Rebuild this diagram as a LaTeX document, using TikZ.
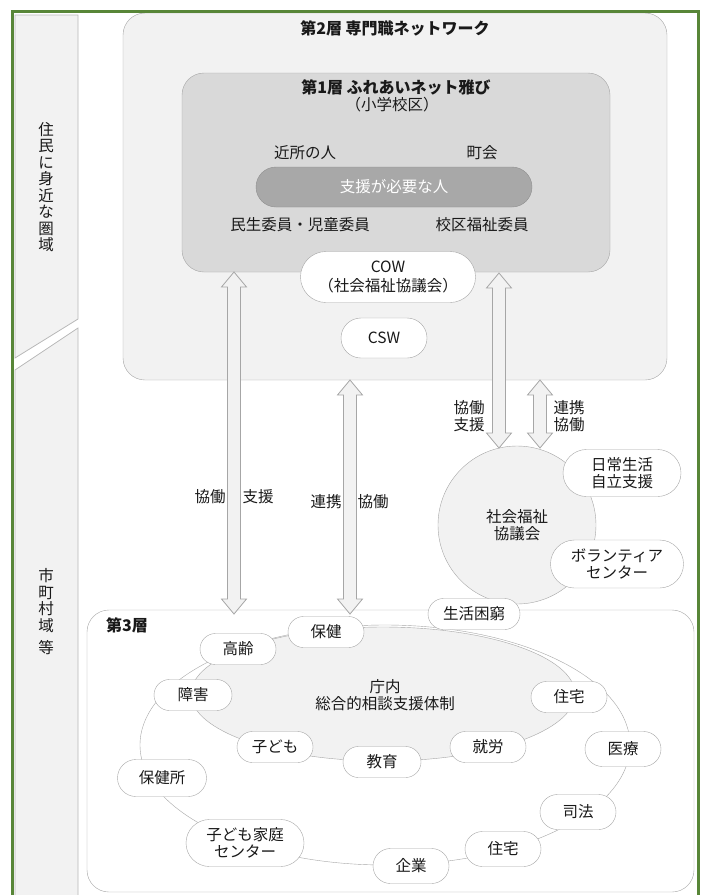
\documentclass[tikz,border=0pt]{standalone}
\usepackage{fontspec}
\setmainfont{Noto Sans CJK JP}
\usetikzlibrary{calc,shapes.misc}
\definecolor{framegreen}{RGB}{88,134,56}
\definecolor{linegray}{RGB}{166,166,166}
\definecolor{palegray}{RGB}{242,242,242}
\definecolor{midgray}{RGB}{217,217,217}
\definecolor{needgray}{RGB}{168,168,168}
\definecolor{txt}{RGB}{25,25,25}
\tikzset{
  label/.style={font=\fontsize{15.5}{16.5}\selectfont, text=txt, align=center, inner sep=0pt},
  title/.style={label, font=\fontsize{16}{17}\selectfont\bfseries},
  layer/.style={draw=linegray, rounded corners=22pt, inner sep=0pt},
  pill/.style={rounded rectangle, draw=linegray, fill=white, minimum width=78pt,
    minimum height=31pt, inner sep=1pt, align=center, text=txt,
    font=\fontsize{15.5}{17}\selectfont},
  arrowbody/.style={draw=linegray, fill=palegray, line width=0.8pt},
}
\def\labelnode{\node[label]}
\def\pillnode{\node[pill]}
\def\colbox{\filldraw[fill=palegray, draw=linegray!80, line width=0.8pt]}
\newcommand\blockarrow[2]{%
  \draw[arrowbody] let \p1=(#1), \p2=(#2) in
    (\x1,\y1) -- (\x1+12.5pt,\y1-15pt) -- (\x1+6.5pt,\y1-15pt) -- (\x1+6.5pt,\y2+15pt)
    -- (\x1+12.5pt,\y2+15pt) -- (\x1,\y2) -- (\x1-12.5pt,\y2+15pt) -- (\x1-6.5pt,\y2+15pt)
    -- (\x1-6.5pt,\y1-15pt) -- (\x1-12.5pt,\y1-15pt) -- cycle;}

\begin{document}
\begin{tikzpicture}[x=1pt,y=-1pt]
\useasboundingbox (0,0) rectangle (702,895);
\colbox (15,15) -- (78,15) -- (78,319) -- (15,358) -- cycle;
\colbox (15,370) -- (78,328) -- (78,900) -- (15,900) -- cycle;
\labelnode (near) at (46,187) {住\\民\\に\\身\\近\\な\\圏\\域};
\labelnode (city) at (46,612) {市\\町\\村\\域\\[6pt]等};

\node[layer, fill=palegray, minimum width=544pt, minimum height=367pt] (l2) at (395,196.5) {};
\node[layer, fill=midgray, minimum width=428pt, minimum height=199pt] (l1) at (396,172.5) {};
\node[layer, fill=white, minimum width=607pt, minimum height=282pt] (l3) at (390.5,751) {};
\node[title] (t2) at (395,28) {第2層\ 専門職ネットワーク};
\node[title] (t1) at (396,87) {第1層\ ふれあいネット雅び};
\labelnode (t1sub) at (392,105) {（小学校区）};
\node[title] (t3) at (127,625) {第3層};

\labelnode (neighbor) at (305,153) {近所の人};
\labelnode (chokai) at (482,153) {町会};
\node[pill, fill=needgray, draw=needgray!85!black, text=white, minimum width=278pt, minimum height=40pt] (need) at (394,187) {支援が必要な人};
\labelnode (minsei) at (300,225) {民生委員・児童委員};
\labelnode (kouku) at (482,225) {校区福祉委員};
\pillnode[minimum width=177pt, minimum height=51pt, font=\fontsize{15.5}{19}\selectfont] (cow) at (388,277) {COW\\（社会福祉協議会）};
\pillnode[minimum width=88pt, minimum height=40pt] (csw) at (384,338) {CSW};

\node[circle, draw=linegray, fill=palegray, minimum size=158pt, align=center, text=txt, font=\fontsize{15.5}{17}\selectfont] (shakyo) at (517,525) {社会福祉\\協議会};
\pillnode[minimum width=120pt, minimum height=47pt] (jiritsu) at (622,473) {日常生活\\自立支援};
\pillnode[minimum width=135pt, minimum height=48pt] (volunteer) at (617,564) {ボランティア\\センター};

\draw[linegray, fill=palegray] (383,694) ellipse [x radius=192pt, y radius=67pt];
\draw[linegray] (385,745) ellipse [x radius=245pt, y radius=120pt];
\labelnode (chonai) at (385,695) {庁内\\総合的相談支援体制};

\coordinate (a1t) at (234,272);
\coordinate (a1b) at (234,614);
\coordinate (a2t) at (350,380);
\coordinate (a2b) at (350,614);
\coordinate (a3t) at (499,273);
\coordinate (a3b) at (499,448);
\coordinate (a4t) at (540,380);
\coordinate (a4b) at (540,448);
\blockarrow{a1t}{a1b}
\blockarrow{a2t}{a2b}
\blockarrow{a3t}{a3b}
\blockarrow{a4t}{a4b}
\labelnode (k1) at (210,497) {協働};
\labelnode (s1) at (258,497) {支援};
\labelnode (r2) at (326,502) {連携};
\labelnode (k2) at (373,502) {協働};
\labelnode (ks3) at (469,416) {協働\\支援};
\labelnode (rk4) at (569,416) {連携\\協働};

\pillnode[minimum width=94pt] (konkyu) at (474,614) {生活困窮};
\pillnode (hoken) at (326,632) {保健};
\pillnode (korei) at (238,649) {高齢};
\pillnode[minimum width=80pt] (shogai) at (193,695) {障害};
\pillnode (kodomo) at (275,747) {子ども};
\pillnode[minimum width=80pt] (kyoiku) at (382,762) {教育};
\pillnode (shuro) at (488,747) {就労};
\pillnode (jutaku) at (569,697) {住宅};
\pillnode[minimum height=35pt] (iryo) at (623,749) {医療};
\pillnode[minimum height=35pt] (shiho) at (578,812) {司法};
\pillnode[minimum height=35pt] (jutaku2) at (503,849) {住宅};
\pillnode[minimum height=35pt] (kigyo) at (411,866) {企業};
\pillnode[minimum width=120pt, minimum height=47pt] (kodomoc) at (245,843) {子ども家庭\\センター};
\pillnode[minimum width=91pt, minimum height=37pt] (hokenjo) at (162,778) {保健所};

\draw[framegreen, line width=3pt] (12,11) rectangle (698,905);
\end{tikzpicture}
\end{document}
